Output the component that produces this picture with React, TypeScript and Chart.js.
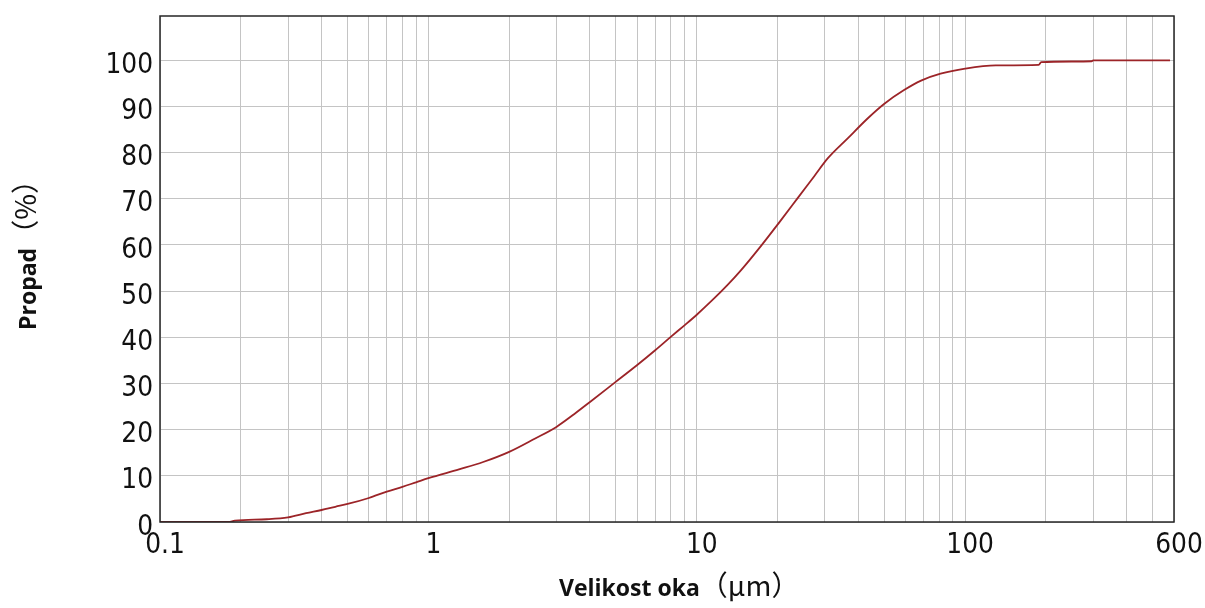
import React, { useEffect, useRef } from "react";
import { Chart, registerables } from "chart.js";

Chart.register(...registerables);

// Particle size (µm) and cumulative passing (%)
const sizeUm = [
  0.1, 0.18, 0.19, 0.25, 0.3, 0.35, 0.4, 0.45, 0.5, 0.6, 0.7, 0.8, 0.9, 1,
  1.3, 1.6, 2, 2.5, 3, 3.5, 4, 5, 6, 7, 8, 9, 10, 11.5, 13, 14.6, 17.3, 20.3,
  23.8, 27.4, 30.8, 36.5, 43.3, 50, 59, 68.5, 81, 100, 130, 188, 192, 296, 300,
  400, 580,
];
const passingPct = [
  0, 0, 0.3, 0.6, 1.0, 1.9, 2.6, 3.3, 3.9, 5.2, 6.6, 7.6, 8.6, 9.5,
  11.4, 13.0, 15.2, 18.1, 20.6, 23.4, 26.0, 30.4, 34.0, 37.2, 40.1, 42.6, 44.9, 48.2, 51.3, 54.5, 59.7, 64.9,
  70.2, 74.9, 78.8, 83.1, 87.4, 90.6, 93.5, 95.6, 97.1, 98.2, 98.9, 99.0, 99.6, 99.8, 100,
  100, 100,
];

// Axis labels
const xTickLabels = [0.1, 1, 10, 100, 600];
const yTickLabels = [0, 10, 20, 30, 40, 50, 60, 70, 80, 90, 100];
const xTitle = "Velikost oka";
const xUnit = "（µm）";
const yTitle = "Propad";
const yUnit = "（%）";

// Log grid: 1..9 within each decade, up to the axis end
const xDecades = [0.1, 1, 10, 100];
const xMultipliers = [1, 2, 3, 4, 5, 6, 7, 8, 9];
const X_MIN = 0.1;
const X_MAX = 600;
const Y_MIN = 0;
const Y_MAX = 109.6;

const TICK_FONT = '"DejaVu Sans", sans-serif';
const TICK_SIZE = 29;
const TICK_SX = 0.86;
const TITLE_FONT = '"Open Sans", sans-serif';
const UNIT_FONT = '"Noto Sans CJK JP", "Noto Sans", sans-serif';

function squishedText(
  ctx: CanvasRenderingContext2D,
  text: string,
  x: number,
  y: number,
  align: CanvasTextAlign,
  sx: number
) {
  ctx.save();
  ctx.translate(x, y);
  ctx.scale(sx, 1);
  ctx.textAlign = align;
  ctx.fillText(text, 0, 0);
  ctx.restore();
}

const framePlugin = {
  id: "frameAndLabels",
  afterDraw(chart: any) {
    const { ctx, chartArea } = chart;
    const xs = chart.scales.x;
    const ys = chart.scales.y;
    const { left, right, top, bottom } = chartArea;
    ctx.save();

    // plot frame
    ctx.strokeStyle = "#262626";
    ctx.lineWidth = 1.5;
    ctx.strokeRect(left, top, right - left, bottom - top);

    // tick labels
    ctx.fillStyle = "#111";
    ctx.textBaseline = "alphabetic";
    ctx.font = `${TICK_SIZE}px ${TICK_FONT}`;
    const digitMid = 0.364 * TICK_SIZE;
    for (const v of yTickLabels) {
      const y = ys.getPixelForValue(v);
      squishedText(ctx, String(v), left - 7, y + 2 + digitMid, "right", TICK_SX);
    }
    for (const v of xTickLabels) {
      const x = xs.getPixelForValue(v);
      squishedText(ctx, String(v), x + 5, bottom + 31, "center", TICK_SX);
    }

    // x-axis title
    const cx = (left + right) / 2;
    ctx.textAlign = "left";
    ctx.font = `bold 23px ${TITLE_FONT}`;
    const wTitle = ctx.measureText(xTitle).width;
    const xStart = cx - 108;
    ctx.fillText(xTitle, xStart, bottom + 74);
    ctx.font = `28px ${UNIT_FONT}`;
    ctx.fillText(xUnit, xStart + wTitle, bottom + 74);

    // y-axis title (rotated)
    const cy = (top + bottom) / 2;
    ctx.save();
    ctx.translate(left - 124, cy + 61);
    ctx.rotate(-Math.PI / 2);
    ctx.font = `bold 23px ${TITLE_FONT}`;
    const wY = ctx.measureText(yTitle).width;
    ctx.fillText(yTitle, 0, 0);
    ctx.font = `28px ${UNIT_FONT}`;
    ctx.fillText(yUnit, wY, 0);
    ctx.restore();

    ctx.restore();
  },
};

export default function App() {
  const canvasRef = useRef<HTMLCanvasElement | null>(null);

  useEffect(() => {
    const canvas = canvasRef.current;
    if (!canvas) return;

    const gridValues: number[] = [];
    for (const d of xDecades) {
      for (const m of xMultipliers) {
        const v = Math.round(d * m * 1000) / 1000;
        if (v <= X_MAX) gridValues.push(v);
      }
    }
    gridValues.push(X_MAX);

    const points = sizeUm.map((x, i) => ({ x, y: passingPct[i] }));

    const chart = new Chart(canvas, {
      type: "scatter",
      data: {
        datasets: [
          {
            data: points,
            showLine: true,
            borderColor: "#9c2428",
            borderWidth: 1.8,
            pointRadius: 0,
            cubicInterpolationMode: "monotone",
            fill: false,
          },
        ],
      },
      options: {
        animation: false,
        responsive: false,
        events: [],
        layout: { padding: { left: 160, top: 16, right: 31, bottom: 86 } },
        plugins: {
          legend: { display: false },
          tooltip: { enabled: false },
        },
        scales: {
          x: {
            type: "logarithmic",
            min: X_MIN,
            max: X_MAX,
            afterBuildTicks: (scale: any) => {
              scale.ticks = gridValues.map((v) => ({ value: v }));
            },
            ticks: { display: false },
            grid: { color: "#c4c4c4", lineWidth: 1, drawTicks: false },
            border: { display: false },
          },
          y: {
            type: "linear",
            min: Y_MIN,
            max: Y_MAX,
            afterBuildTicks: (scale: any) => {
              scale.ticks = yTickLabels.map((v) => ({ value: v }));
            },
            ticks: { display: false },
            grid: { color: "#c4c4c4", lineWidth: 1, drawTicks: false },
            border: { display: false },
          },
        },
      },
      plugins: [framePlugin],
    } as any);

    return () => chart.destroy();
  }, []);

  return (
    <div
      style={{
        position: "fixed",
        left: 0,
        top: 0,
        width: 1205,
        height: 608,
        background: "#ffffff",
      }}
    >
      <canvas ref={canvasRef} width={1205} height={608} />
    </div>
  );
}
